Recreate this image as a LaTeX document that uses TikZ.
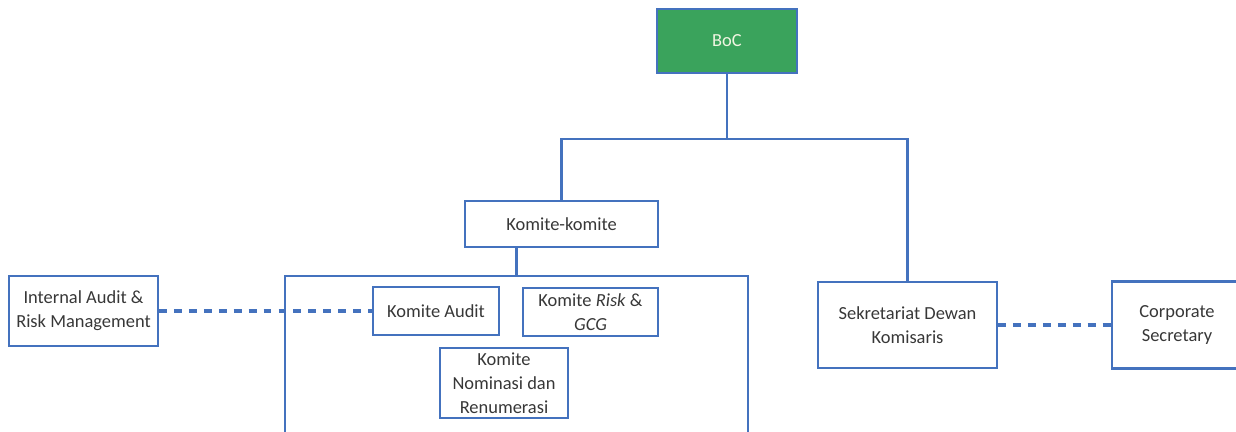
\documentclass[tikz,border=0pt]{standalone}
\usepackage{fontspec}
\setmainfont{Carlito}
\definecolor{garis}{RGB}{68,114,190}
\definecolor{hijau}{RGB}{58,163,92}
\definecolor{teks}{RGB}{55,55,55}

\begin{document}
\begin{tikzpicture}[x=0.02cm,y=-0.02cm,line width=1.2pt,draw=garis]
\tikzset{kotak/.style = {draw=garis,rectangle,inner sep=2pt,align=center,
                         text=teks,font=\fontsize{10.5}{13.5}\selectfont},
         hubung/.style = {draw=garis,line width=1.5pt},
         putus/.style = {hubung,line width=2pt,dash pattern=on 4.5pt off 4pt}}
\useasboundingbox (0,0) rectangle (1236,432);
\clip (0,0) rectangle (1236,432);

\node[kotak,fill=hijau,text={rgb,255:red,240;green,245;blue,225},
      minimum width=2.8cm,minimum height=1.28cm] (boc) at (727,41) {BoC};
\node[kotak,minimum width=3.86cm,minimum height=0.92cm] (komite) at (561.5,224) {Komite-komite};
\node[kotak,minimum width=9.26cm,minimum height=4cm] (grup) at (516.5,376) {};
\node[kotak,minimum width=2.52cm,minimum height=0.96cm] (audit) at (436,311) {Komite Audit};
\node[kotak,minimum width=2.7cm,minimum height=0.96cm] (risk) at (590.5,312) {Komite \textit{Risk} \&\\\textit{GCG}};
\node[kotak,minimum width=2.56cm,minimum height=1.4cm] (nominasi) at (504,383) {Komite\\Nominasi dan\\Renumerasi};
\node[kotak,minimum width=2.98cm,minimum height=1.4cm] (internal) at (83.5,311) {Internal Audit \&\\Risk Management};
\node[kotak,minimum width=3.58cm,minimum height=1.72cm] (sekretariat) at (907.5,325) {Sekretariat Dewan\\Komisaris};
\node[kotak,minimum width=2.6cm,minimum height=1.74cm] (corsec) at (1177,325) {Corporate\\Secretary};

\coordinate (cabang) at (727,139);
\draw[hubung] (boc.south) -- (cabang);
\draw[hubung] (komite.north) |- (cabang) -| (sekretariat.north);
\draw[hubung] (komite.south -| grup.north) -- (grup.north);
\draw[putus] (internal.east) -- (audit.west);
\draw[putus] (sekretariat.east) -- (corsec.west);
\end{tikzpicture}
\end{document}
